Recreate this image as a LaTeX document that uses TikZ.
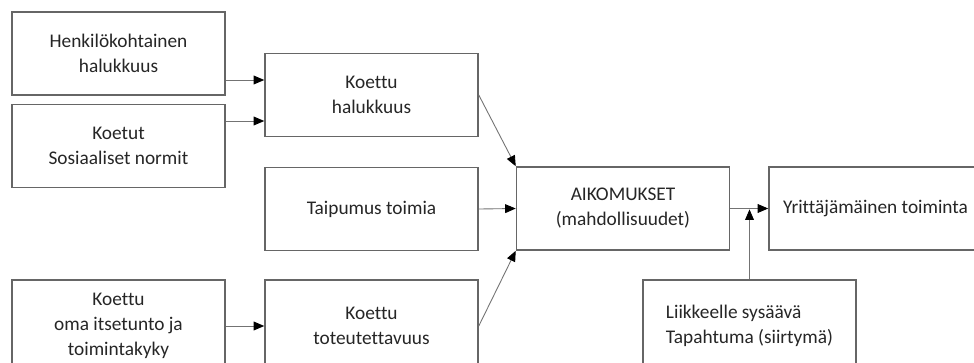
\documentclass[tikz,border=0pt]{standalone}
\usepackage{fontspec}
\setmainfont{Carlito}[Ligatures=NoCommon]
\usetikzlibrary{arrows.meta}

\begin{document}
\begin{tikzpicture}[x=0.02cm,y=-0.02cm,
	font=\fontsize{11}{14.2}\selectfont,
	>={Triangle[length=6pt,width=5pt,color=black]},
	laatikko/.style={draw=black!60, line width=0.9pt, text=black!85, align=center,
		minimum width=4.26cm, minimum height=1.66cm, inner sep=2pt},
	korkea/.style={laatikko, minimum height=1.84cm},
	nuoli/.style={->, draw=black!55, line width=0.5pt}]
%========================================
% Frame of the picture
%========================================
\useasboundingbox (0,0) rectangle (974,362);
\clip (0,0) rectangle (974,362);
\fill[white] (0,0) rectangle (974,362);
%========================================
% LEFT column
%========================================
\node[laatikko] (henk) at (118.5,53.5) {Henkilökohtainen\\ halukkuus};
\node[laatikko] (norm) at (118.5,146) {Koetut\\ Sosiaaliset normit};
\node[korkea] (itse) at (118.5,326) {Koettu\\ oma itsetunto ja\\ toimintakyky};
%========================================
% MIDDLE column
%========================================
\node[laatikko] (halu) at (371.5,95) {Koettu\\ halukkuus};
\node[laatikko] (taip) at (371.5,209) {Taipumus toimia};
\node[korkea] (tote) at (371.5,326) {Koettu\\ toteutettavuus};
%========================================
% RIGHT: intentions, action, trigger
%========================================
\node[laatikko] (aiko) at (623,208.5) {AIKOMUKSET\\ (mahdollisuudet)};
\node[laatikko] (yrit) at (875.5,208.5) {Yrittäjämäinen toiminta};
\node[korkea, align=left] (liik) at (749.5,326) {Liikkeelle sysäävä\\ Tapahtuma (siirtymä)};
%========================================
% ARROWS
%========================================
\coordinate (h1) at ([yshift=-0.53cm]henk.east);
\coordinate (n1) at ([yshift=0.5cm]norm.east);
\draw[nuoli] (h1) -- (h1 -| halu.west);
\draw[nuoli] (n1) -- (n1 -| halu.west);
\draw[nuoli] (itse.east) -- (tote.west);
% into the intentions
\draw[nuoli] (halu.east) -- (aiko.north west);
\draw[nuoli] (taip.east) -- (aiko.west);
\draw[nuoli] (tote.east) -- (aiko.south west);
% intentions to action, trigger from below
\draw[nuoli] (aiko.east) -- (yrit.west);
\draw[nuoli, shorten >=0.5pt] (liik.north) -- (liik.north |- aiko.east);
\end{tikzpicture}
\end{document}
